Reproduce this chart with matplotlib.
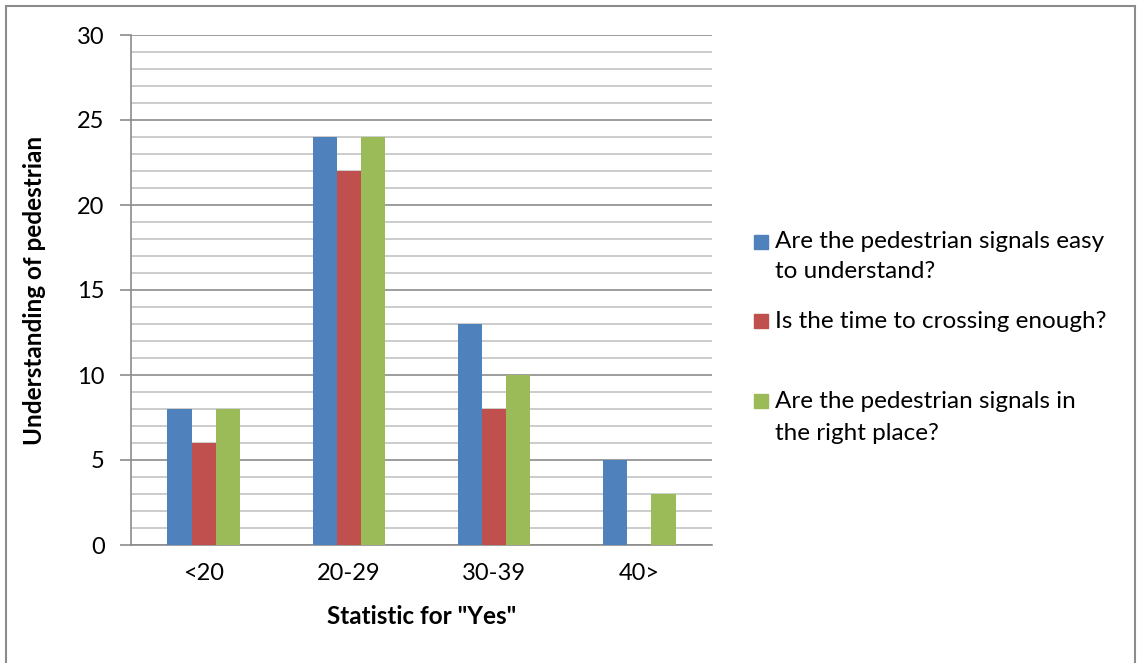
import matplotlib
matplotlib.use("Agg")
import matplotlib.pyplot as plt
from matplotlib.patches import Rectangle
import numpy as np

plt.rcParams['font.family'] = ['Lato', 'DejaVu Sans']

categories = ["<20", "20-29", "30-39", "40>"]
easy_to_understand = [8, 24, 13, 5]
crossing_time_enough = [6, 22, 8, 0]
right_place = [8, 24, 10, 3]
series_labels = [
    "Are the pedestrian signals easy\nto understand?",
    "Is the time to crossing enough?",
    "Are the pedestrian signals in\nthe right place?",
]
colors = ["#4F81BD", "#C0504D", "#9BBB59"]

W, H = 1137, 663
fig = plt.figure(figsize=(W / 100, H / 100), dpi=100)
ax = fig.add_axes([131 / W, 1 - 545 / H, (712 - 131) / W, (545 - 35) / H])

x = np.arange(len(categories))
bw = 0.166
for i, (vals, c) in enumerate(zip([easy_to_understand, crossing_time_enough, right_place], colors)):
    ax.bar(x + (i - 1) * bw, vals, width=bw, color=c, zorder=3)

ax.set_xlim(-0.5, len(categories) - 0.5)
ax.set_ylim(0, 30)
ax.set_yticks(np.arange(0, 31, 5))
ax.set_yticks(np.arange(0, 31, 1), minor=True)
ax.grid(axis='y', which='minor', color='#c4c4c4', linewidth=1.2, zorder=0)
ax.grid(axis='y', which='major', color='#8c8c8c', linewidth=1.2, zorder=1)
ax.set_xticks(x)
ax.set_xticklabels(categories)
ax.tick_params(axis='x', length=0, pad=13, labelsize=17)
ax.tick_params(axis='y', which='major', length=8, width=1.2, color='#8c8c8c', pad=11, labelsize=17)
ax.tick_params(axis='y', which='minor', length=0)
for s in ['top', 'right']:
    ax.spines[s].set_visible(False)
for s in ['left', 'bottom']:
    ax.spines[s].set_color('#8c8c8c')
    ax.spines[s].set_linewidth(1.2)

ax.set_xlabel('Statistic for "Yes"', fontsize=17.5, fontweight='bold', labelpad=15)
ax.set_ylabel('Understanding of pedestrian', fontsize=17.5, fontweight='bold', labelpad=22)

# legend drawn on the figure with free vertical spacing
legend_rows = [(242, 272), (321,), (401, 433)]
for lbl, c, rows in zip(series_labels, colors, legend_rows):
    top = rows[0]
    fig.patches.append(Rectangle((754 / W, 1 - (top + 7) / H), 14 / W, 14 / H,
                                 transform=fig.transFigure, color=c, figure=fig))
    for line, yy in zip(lbl.split("\n"), rows):
        fig.text(775 / W, 1 - yy / H, line, fontsize=17.5, va='center', ha='left')

# outer frame
fig.patches.append(Rectangle((6 / W, -0.05), 1129 / W, 1.05 - 6 / H, transform=fig.transFigure,
                             fill=False, edgecolor='#8c8c8c', linewidth=1.5, figure=fig))

fig.savefig("out.png", dpi=100)
